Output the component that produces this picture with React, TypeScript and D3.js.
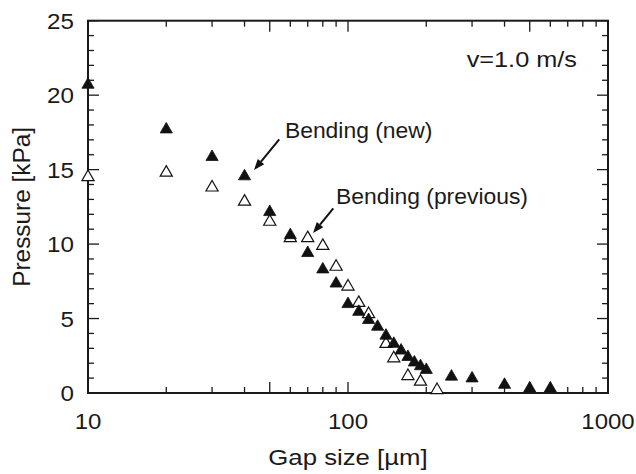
import React from 'react';
import * as d3 from 'd3';

// Gap size [µm] and pressure [kPa] for each series
const gapNew = [10, 20, 30, 40, 50, 60, 70, 80, 90, 100, 110, 120, 130, 140, 150, 160, 170, 180, 190, 200, 250, 300, 400, 500, 600];
const pressureNew = [20.7, 17.7, 15.85, 14.55, 12.15, 10.6, 9.4, 8.3, 7.35, 5.97, 5.45, 4.9, 4.45, 3.85, 3.3, 2.85, 2.42, 2.05, 1.8, 1.55, 1.1, 0.98, 0.55, 0.31, 0.31];
const gapPrev = [10, 20, 30, 40, 50, 60, 70, 80, 90, 100, 110, 120, 140, 150, 170, 190, 220];
const pressurePrev = [14.5, 14.8, 13.8, 12.85, 11.5, 10.4, 10.4, 9.88, 8.48, 7.15, 6.05, 5.3, 3.3, 2.33, 1.14, 0.76, 0.2];

const xTickLabels = [10, 100, 1000];
const yTickLabels = [0, 5, 10, 15, 20, 25];

// Annotations in data coordinates: text anchor, arrow start, arrow tip
const annotationTexts = ['Bending (new)', 'Bending (previous)'];
const annotationTextPos = [[57.2, 17.1], [89.9, 12.68]];
const annotationArrowFrom = [[54.4, 17.03], [87.8, 12.4]];
const annotationArrowTo = [[43.5, 14.97], [73.4, 10.74]];
const speedLabel = 'v=1.0 m/s';
const speedLabelPos = [286, 21.9];

const W = 636;
const H = 474;
const L = 88, R = 608, T = 20.7, B = 393;
const FONT = '"Liberation Sans", Arial, Helvetica, sans-serif';
const INK = '#1a1a1a';

function SText(props: { x: number; y: number; sx: number; size: number; anchor?: string; rotate?: number; children: React.ReactNode }) {
  const { x, y, sx, size, anchor, rotate, children } = props;
  const tr = `translate(${x},${y})${rotate ? ` rotate(${rotate})` : ''} scale(${sx},1)`;
  return (
    <text transform={tr} textAnchor={anchor || 'start'} fontSize={size} fill={INK}>{children}</text>
  );
}

export default function App() {
  const x = d3.scaleLog().domain([10, 1000]).range([L, R]);
  const y = d3.scaleLinear().domain([0, 25]).range([B, T]);

  const tri = d3.symbol().type(d3.symbolTriangle).size(64)() as string;

  const xMinor = x.ticks();
  const isMajorX = (v: number) => {
    const e = Math.log10(v);
    const m = v / Math.pow(10, Math.floor(e + 1e-9));
    return Math.abs(m - 1) < 1e-6 || Math.abs(m - 5) < 1e-6;
  };
  const yMinor = d3.range(0, 26, 1);

  const arrows = annotationArrowFrom.map((f, i) => {
    const x1 = x(f[0]), y1 = y(f[1]);
    const x2 = x(annotationArrowTo[i][0]), y2 = y(annotationArrowTo[i][1]);
    const ang = Math.atan2(y2 - y1, x2 - x1);
    const hl = 11, hw = 4.2;
    const bx = x2 - hl * Math.cos(ang), by = y2 - hl * Math.sin(ang);
    const px = -Math.sin(ang) * hw, py = Math.cos(ang) * hw;
    const head = `M${x2},${y2}L${bx + px},${by + py}L${bx - px},${by - py}Z`;
    return { x1, y1, bx, by, head };
  });

  return (
    <svg width={W} height={H} style={{ position: 'absolute', left: 0, top: 0, background: '#fff' }} fontFamily={FONT}>
      {xMinor.map((v, i) => {
        const len = isMajorX(v) ? 11 : 6;
        return (
          <g key={'xt' + i} stroke={INK} strokeWidth={1.3}>
            <line x1={x(v)} x2={x(v)} y1={B} y2={B - len} />
            <line x1={x(v)} x2={x(v)} y1={T} y2={T + len} />
          </g>
        );
      })}
      {yMinor.map((v, i) => {
        const len = v % 5 === 0 ? 11 : 6;
        return (
          <g key={'yt' + i} stroke={INK} strokeWidth={1.3}>
            <line x1={L} x2={L + len} y1={y(v)} y2={y(v)} />
            <line x1={R} x2={R - len} y1={y(v)} y2={y(v)} />
          </g>
        );
      })}
      <rect x={L} y={T} width={R - L} height={B - T} fill="none" stroke={INK} strokeWidth={2} />

      {xTickLabels.map((v, i) => (
        <SText key={'xl' + i} x={x(v)} y={429} sx={1.09} size={22} anchor="middle">{v}</SText>
      ))}
      {yTickLabels.map((v, i) => (
        <SText key={'yl' + i} x={74} y={y(v) + 8} sx={1.1} size={22} anchor="end">{v}</SText>
      ))}

      <SText x={(L + R) / 2} y={465} sx={1.12} size={23} anchor="middle">Gap size [µm]</SText>
      <SText x={30} y={(T + B) / 2} sx={1.06} size={23} anchor="middle" rotate={-90}>Pressure [kPa]</SText>

      {gapPrev.map((g, i) => (
        <path key={'p' + i} d={tri} transform={`translate(${x(g)},${y(pressurePrev[i])})`} fill="#fff" stroke="#111" strokeWidth={1.2} />
      ))}
      {gapNew.map((g, i) => (
        <path key={'n' + i} d={tri} transform={`translate(${x(g)},${y(pressureNew[i])})`} fill="#111" stroke="#111" strokeWidth={0.8} />
      ))}

      {arrows.map((a, i) => (
        <g key={'a' + i}>
          <line x1={a.x1} y1={a.y1} x2={a.bx} y2={a.by} stroke="#111" strokeWidth={2} />
          <path d={a.head} fill="#111" />
        </g>
      ))}
      {annotationTexts.map((t, i) => (
        <SText key={'at' + i} x={x(annotationTextPos[i][0])} y={y(annotationTextPos[i][1])} sx={1.04} size={22}>{t}</SText>
      ))}
      <SText x={x(speedLabelPos[0])} y={y(speedLabelPos[1])} sx={1.15} size={22}>{speedLabel}</SText>
    </svg>
  );
}
